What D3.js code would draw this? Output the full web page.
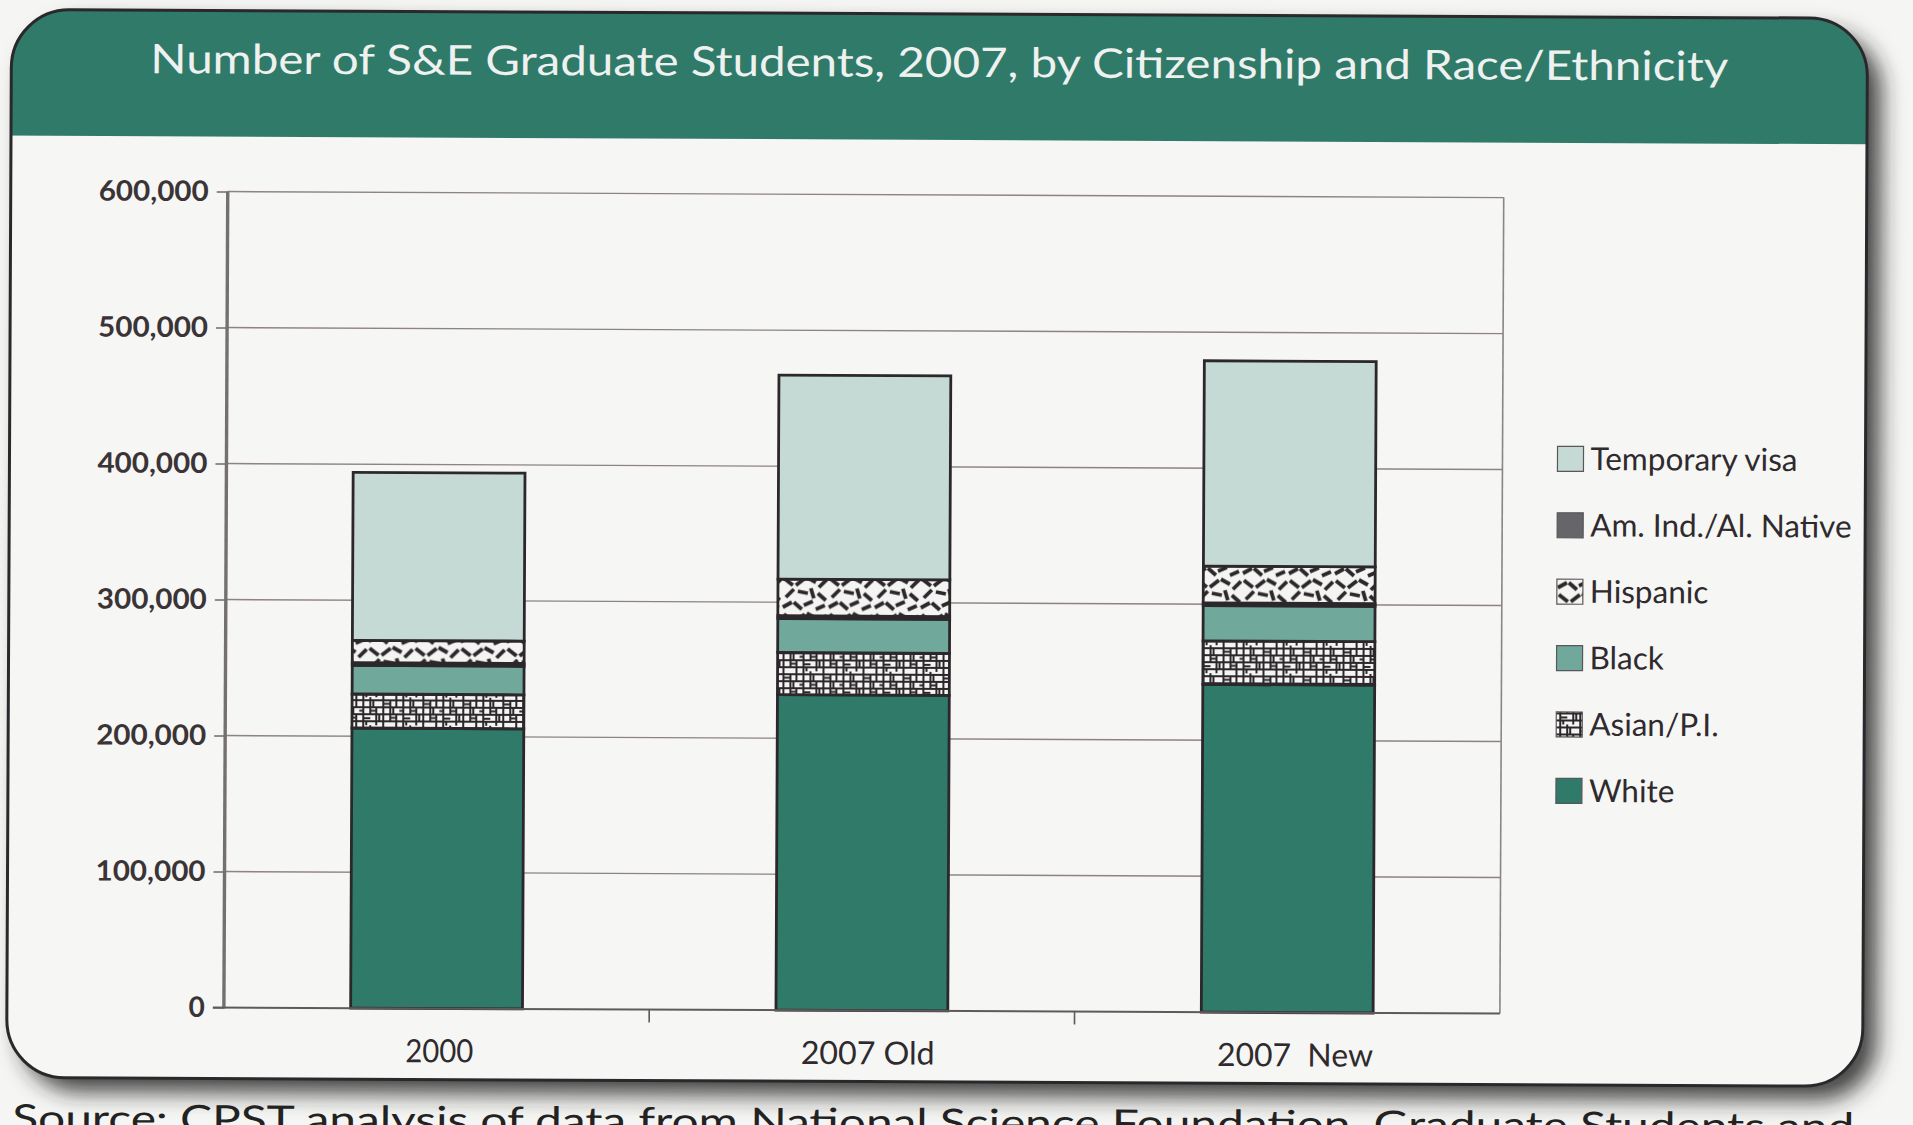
<!DOCTYPE html>
<html>
<head>
<meta charset="utf-8">
<script src="https://cdn.jsdelivr.net/npm/d3@7"></script>
<style>
  html, body { margin: 0; padding: 0; background: #f5f5f3; }
  svg { display: block; }
  text { font-family: Lato, "Open Sans", sans-serif; }
</style>
</head>
<body>
<svg id="chart" width="1913" height="1125"></svg>
<script>
// ---- data ----
const categories = ["2000", "2007 Old", "2007  New"];
const white    = [206000, 232000, 241000];
const asian    = [25000, 31000, 32000];
const black    = [21000, 25000, 26000];
const amInd    = [2000, 2000, 2000];
const hispanic = [16500, 27000, 27000];
const tempVisa = [123500, 150000, 151000];
const yTicks = [0, 100000, 200000, 300000, 400000, 500000, 600000];
const stackKeys = ["White", "Asian/P.I.", "Black", "Am. Ind./Al. Native", "Hispanic", "Temporary visa"];
const legendKeys = ["Temporary visa", "Am. Ind./Al. Native", "Hispanic", "Black", "Asian/P.I.", "White"];
const title = "Number of S&E Graduate Students, 2007, by Citizenship and Race/Ethnicity";
const source = "Source: CPST analysis of data from National Science Foundation, Graduate Students and";

const rows = categories.map((c, i) => ({
  category: c,
  "White": white[i],
  "Asian/P.I.": asian[i],
  "Black": black[i],
  "Am. Ind./Al. Native": amInd[i],
  "Hispanic": hispanic[i],
  "Temporary visa": tempVisa[i]
}));

const W = 1913, H = 1125;
const plot = { left: 226, right: 1502, top: 195, bottom: 1011 };
const ink = "#2b272b";

const svg = d3.select("#chart");
const defs = svg.append("defs");

// card drop shadow
const shadow = defs.append("filter").attr("id", "cardShadow")
  .attr("x", "-5%").attr("y", "-5%").attr("width", "115%").attr("height", "118%");
shadow.append("feDropShadow")
  .attr("dx", 14).attr("dy", 14).attr("stdDeviation", 11)
  .attr("flood-color", "#262626").attr("flood-opacity", 0.85);

// Hispanic: scattered short strokes on white
const hisp = defs.append("pattern").attr("id", "patHispanic")
  .attr("patternUnits", "userSpaceOnUse").attr("width", 46).attr("height", 36);
hisp.append("rect").attr("width", 46).attr("height", 36).attr("fill", "#f4f4f2");
const hispStrokes = [
  [2, 3, 11, 10], [14, 10, 23, 3], [25, 2, 34, 7], [37, 12, 45, 4],
  [4, 22, 12, 14], [16, 16, 26, 18], [29, 13, 32, 23], [36, 18, 44, 25],
  [1, 32, 10, 27], [12, 27, 20, 34], [22, 30, 31, 26], [34, 34, 43, 30]
];
hisp.selectAll("line").data(hispStrokes).join("line")
  .attr("x1", d => d[0]).attr("y1", d => d[1]).attr("x2", d => d[2]).attr("y2", d => d[3])
  .attr("stroke", ink).attr("stroke-width", 3.8);

// Asian/P.I.: irregular dense grid on white
const asianPat = defs.append("pattern").attr("id", "patAsian")
  .attr("patternUnits", "userSpaceOnUse").attr("width", 40).attr("height", 28);
asianPat.append("rect").attr("width", 40).attr("height", 28).attr("fill", "#f4f4f2");
const gridSegs = [
  [0, 3, 40, 3], [0, 10, 40, 10], [0, 17, 40, 17], [0, 24, 40, 24],
  [4, 0, 4, 28], [11, 0, 11, 17], [17, 10, 17, 28], [24, 0, 24, 28],
  [31, 3, 31, 24], [37, 0, 37, 10], [37, 17, 37, 28],
  [24, 6.5, 31, 6.5], [4, 21, 11, 21], [11, 13.5, 17, 13.5], [31, 20.5, 37, 20.5],
  [14, 3, 14, 10], [34, 10, 34, 17], [7, 24, 7, 28], [20, 17, 20, 24], [0, 13.5, 4, 13.5]
];
asianPat.selectAll("line").data(gridSegs).join("line")
  .attr("x1", d => d[0]).attr("y1", d => d[1]).attr("x2", d => d[2]).attr("y2", d => d[3])
  .attr("stroke", ink).attr("stroke-width", 2);

const fills = {
  "White": "#2f7a68",
  "Asian/P.I.": "url(#patAsian)",
  "Black": "#70a99c",
  "Am. Ind./Al. Native": "#66656a",
  "Hispanic": "url(#patHispanic)",
  "Temporary visa": "#c5dad5"
};

// whole page is set slightly askew
const page = svg.append("g").attr("transform", "rotate(0.27 956 562)");

// ---- card ----
const card = { x: 9, y: 14, w: 1856, h: 1068, r: 58 };
page.append("rect")
  .attr("x", card.x).attr("y", card.y).attr("width", card.w).attr("height", card.h)
  .attr("rx", card.r).attr("fill", "#f6f6f4").attr("filter", "url(#cardShadow)");

defs.append("clipPath").attr("id", "headClip")
  .append("rect").attr("x", 0).attr("y", 0).attr("width", W).attr("height", 140);
page.append("rect")
  .attr("x", card.x).attr("y", card.y).attr("width", card.w).attr("height", card.h)
  .attr("rx", card.r).attr("fill", "#2f7a69").attr("clip-path", "url(#headClip)");
page.append("rect")
  .attr("x", card.x).attr("y", card.y).attr("width", card.w).attr("height", card.h)
  .attr("rx", card.r).attr("fill", "none").attr("stroke", "#2b282c").attr("stroke-width", 3);

page.append("text")
  .attr("x", 937).attr("y", 77)
  .attr("text-anchor", "middle")
  .attr("font-size", 41)
  .attr("textLength", 1578).attr("lengthAdjust", "spacingAndGlyphs")
  .attr("fill", "#eef1ef")
  .text(title);

// ---- scales ----
const x = d3.scaleBand().domain(categories).range([plot.left, plot.right]).padding(0);
const y = d3.scaleLinear().domain([0, 600000]).range([plot.bottom, plot.top]);
const barW = x.bandwidth() * 0.404;

const chart = page.append("g");

// gridlines
chart.append("g").selectAll("line").data(yTicks.filter(d => d > 0)).join("line")
  .attr("x1", plot.left).attr("x2", plot.right)
  .attr("y1", d => y(d)).attr("y2", d => y(d))
  .attr("stroke", "#8e8384").attr("stroke-width", 1.4);

// right border of plot area
chart.append("line")
  .attr("x1", plot.right).attr("x2", plot.right)
  .attr("y1", y(600000)).attr("y2", y(0))
  .attr("stroke", "#8a8586").attr("stroke-width", 1.6);

// stacked bars
const series = d3.stack().keys(stackKeys)(rows);
chart.append("g").selectAll("g").data(series).join("g")
  .attr("fill", d => fills[d.key])
  .selectAll("rect").data(d => d).join("rect")
  .attr("x", d => x(d.data.category) + (x.bandwidth() - barW) / 2)
  .attr("width", barW)
  .attr("y", d => y(d[1]))
  .attr("height", d => y(d[0]) - y(d[1]))
  .attr("stroke", ink).attr("stroke-width", 2.8);

// y axis
const yAxis = chart.append("g")
  .attr("transform", `translate(${plot.left},0)`)
  .call(d3.axisLeft(y).tickValues(yTicks).tickSize(11).tickPadding(8).tickFormat(d3.format(",")));
yAxis.select(".domain").remove();
yAxis.selectAll(".tick line").attr("stroke", "#6f6a6c").attr("stroke-width", 1.6);
yAxis.selectAll(".tick text")
  .attr("font-size", 28).attr("font-weight", 700)
  .attr("fill", "#3a3437")
  .attr("font-family", "Lato, sans-serif")
  .each(function (d) {
    if (d >= 100000) d3.select(this).attr("textLength", 110).attr("lengthAdjust", "spacingAndGlyphs");
  });
chart.append("line")
  .attr("x1", plot.left).attr("x2", plot.left)
  .attr("y1", y(600000)).attr("y2", y(0) + 1)
  .attr("stroke", "#747072").attr("stroke-width", 3.4);

// x axis
chart.append("line")
  .attr("x1", plot.left - 11).attr("x2", plot.right)
  .attr("y1", y(0)).attr("y2", y(0))
  .attr("stroke", "#5e5a5c").attr("stroke-width", 2);
chart.append("g").selectAll("line").data(categories.slice(0, -1)).join("line")
  .attr("x1", d => x(d) + x.bandwidth()).attr("x2", d => x(d) + x.bandwidth())
  .attr("y1", y(0)).attr("y2", y(0) + 13)
  .attr("stroke", "#5e5a5c").attr("stroke-width", 1.6);

const xAxis = chart.append("g")
  .attr("transform", `translate(0,${y(0)})`)
  .call(d3.axisBottom(x).tickSize(0).tickPadding(31));
xAxis.select(".domain").remove();
xAxis.selectAll(".tick text")
  .attr("font-size", 32)
  .attr("fill", "#2f2a2e")
  .attr("font-family", "Lato, sans-serif")
  .attr("dx", (d, i) => [3, 6, 8][i])
  .attr("textLength", (d, i) => [68, 134, 156][i])
  .attr("lengthAdjust", "spacingAndGlyphs")
  .style("white-space", "pre");

// legend
const legend = page.append("g").attr("transform", "translate(1557,456)");
const li = legend.selectAll("g").data(legendKeys).join("g")
  .attr("transform", (d, i) => `translate(0,${i * 66.4})`);
li.append("rect")
  .attr("x", 0).attr("y", -12.5).attr("width", 26).attr("height", 25)
  .attr("fill", d => fills[d])
  .attr("stroke", "#5a5659").attr("stroke-width", 1.2);
li.append("text")
  .attr("x", 33).attr("y", 0).attr("dy", "0.35em")
  .attr("font-size", 31.5)
  .attr("fill", "#2f2a2e")
  .text(d => d);

// source line along the bottom of the page
page.append("text")
  .attr("x", 15).attr("y", 1136)
  .attr("font-size", 38)
  .attr("textLength", 1842).attr("lengthAdjust", "spacingAndGlyphs")
  .attr("fill", "#222")
  .text(source);
</script>
</body>
</html>
